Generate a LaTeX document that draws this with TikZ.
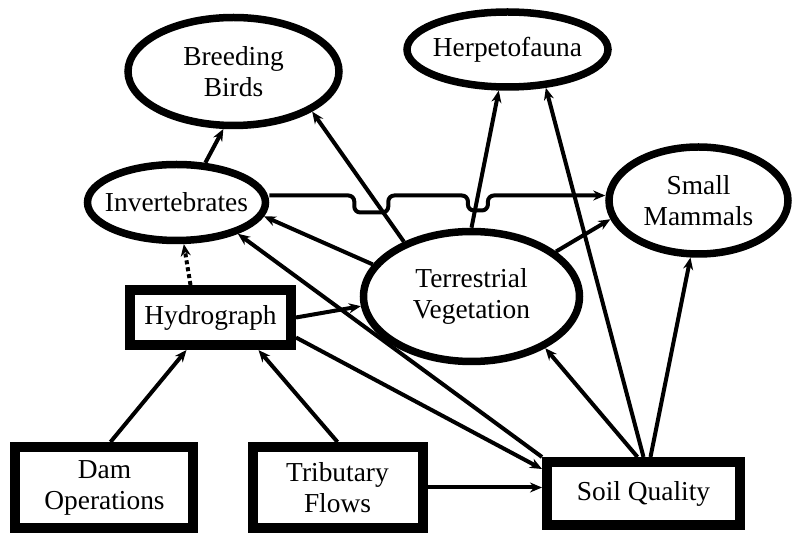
\documentclass[tikz,border=0pt]{standalone}
\usepackage{fontspec}
\setmainfont{Liberation Serif}
\usetikzlibrary{shapes.geometric,arrows.meta,positioning,intersections}

\begin{document}
\begin{tikzpicture}[->,>={Stealth[length=6pt,width=5pt]},line width=2pt,node distance=100pt,
    oval/.style={ellipse, draw, line width=3.75pt, inner xsep=-6pt, inner ysep=0pt, align=center, font=\fontsize{13.7}{15.5}\selectfont},
    box/.style={rectangle, draw, line width=5pt, inner sep=0pt, align=center, font=\fontsize{13.7}{15.5}\selectfont}]
    \useasboundingbox (-105.25pt,-108.75pt) rectangle (291.25pt,158.75pt);

                    \node [box, minimum width=80.5pt, minimum height=27.5pt](hyd) {Hydrograph};
                    \node [oval, minimum width=89pt, minimum height=38pt](inv) [above of = hyd, xshift=-17, yshift=-42.5]{Invertebrates};
                    \node [oval, minimum width=105.5pt, minimum height=54pt](bb) [above of = inv, xshift=28.5, yshift=-34.5]{Breeding\\Birds};
                    \node [oval, minimum width=100.5pt, minimum height=37.5pt](herp) [right of = bb, xshift=37, yshift=11]{Herpetofauna};
                    \node [oval, minimum width=108pt, minimum height=65pt](tv) [right of = hyd, xshift=30.5, yshift=10.5]{Terrestrial\\Vegetation};
                    \node [oval, minimum width=89.5pt, minimum height=53.5pt](sm) [right of = tv, xshift=13.5, yshift=48]{Small\\Mammals};

                    \node [box, minimum width=89pt, minimum height=40.5pt](dam) [below of = hyd, xshift=-53, yshift=15]{Dam\\Operations};
                    \node [box, minimum width=85pt, minimum height=40.5pt](trib) [right of = dam, xshift=16.5]{Tributary\\Flows};
                    \node [box, minimum width=96.5pt, minimum height=31.5pt](soil) [right of = trib, xshift=53, yshift=-3]{Soil Quality};

                    \path
                        (inv.54) edge (bb.-100)
                        (soil.north) edge (herp.-45)
                        ([xshift=3.5pt]soil.north) edge (sm.-98)
                        ([xshift=-3pt]soil.north) edge (tv.-35)
                        (soil.north west) edge (inv.-27)
                        (tv.162) edge (inv.-9)
                        (tv.28) edge (sm.-168)
                        (hyd.east) edge (tv.185)
                        ([yshift=-10pt]hyd.east) edge ([yshift=-6pt]soil.north west)
                        ([xshift=-10pt]hyd.north) edge[dash pattern=on 2pt off 1.5pt] (inv.-80)
                        ([xshift=3pt]dam.north) edge ([xshift=-12pt]hyd.south)
                        (trib.north) edge ([xshift=24pt]hyd.south)
                        (trib.east) edge (trib.east -| soil.west)
                    ;

                    % line from the invertebrates dips under two arrows
                    \draw[name path=vegbirds] (tv.141) -- (bb.-27);
                    \draw[name path=vegherp] (tv.north) -- (herp.-102);
                    \coordinate (h0) at ([yshift=3.5pt]inv.east);
                    \coordinate (h1) at (h0 -| sm.west);
                    \path[name path=hline] (h0) -- (h1);
                    \path[name intersections={of=vegbirds and hline, by=x1}];
                    \path[name intersections={of=vegherp and hline, by=x2}];
                    \draw[rounded corners=3pt] (h0) -- ([xshift=-8.5pt]x1) -- ([xshift=-8.5pt,yshift=-8.5pt]x1)
                        -- ([xshift=8.5pt,yshift=-8.5pt]x1) -- ([xshift=8.5pt]x1) -- ([xshift=-5pt]x2)
                        -- ([xshift=-5pt,yshift=-7.5pt]x2) -- ([xshift=5pt,yshift=-7.5pt]x2) -- ([xshift=5pt]x2) -- (h1);

                \end{tikzpicture}
\end{document}
